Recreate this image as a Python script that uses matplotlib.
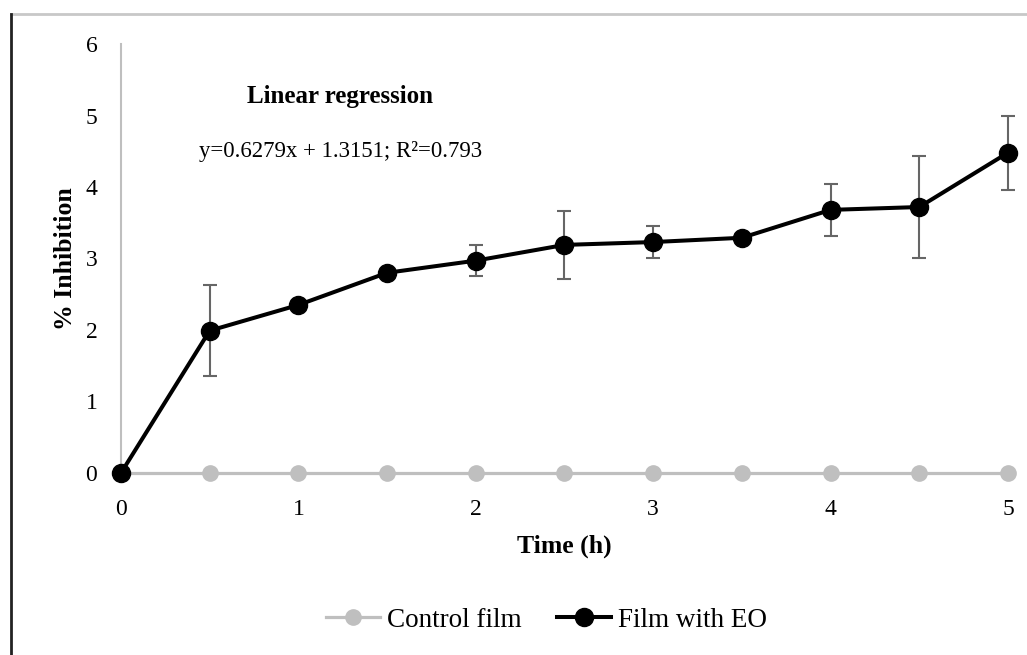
import numpy as np
import matplotlib
matplotlib.use("Agg")
import matplotlib.pyplot as plt
from matplotlib.lines import Line2D

plt.rcParams["font.family"] = ["Liberation Serif", "DejaVu Serif"]

# Données
time_h = [0, 0.5, 1, 1.5, 2, 2.5, 3, 3.5, 4, 4.5, 5]
control = [0, 0, 0, 0, 0, 0, 0, 0, 0, 0, 0]
film_eo = [0, 1.99, 2.35, 2.80, 2.97, 3.19, 3.23, 3.29, 3.68, 3.72, 4.48]
film_eo_err = [0, 0.64, 0.05, 0, 0.22, 0.48, 0.23, 0, 0.36, 0.71, 0.52]

fig = plt.figure(figsize=(10.27, 6.55), dpi=100)
ax = fig.add_axes([0.1178, 0.2779, 0.8637, 0.6549])

ax.plot(time_h, control, "o-", color="#bfbfbf", linewidth=2.3, markersize=11,
        label="Control film", zorder=2, clip_on=False)
eb = ax.errorbar(time_h, film_eo, yerr=film_eo_err, fmt="none", ecolor="#666666",
                 elinewidth=1.5, capsize=5, capthick=1.5, zorder=3)
for art in eb.lines[1] + eb.lines[2]:
    art.set_clip_on(False)
ax.plot(time_h, film_eo, "o-", color="black", linewidth=2.9, markersize=13,
        label="Film with EO", zorder=4, clip_on=False)

ax.set_xlim(0, 5)
ax.set_ylim(0, 6)
ax.set_xticks(range(6))
ax.set_yticks(range(7))
ax.tick_params(length=0, labelsize=17)
ax.tick_params(axis="x", pad=19)
ax.tick_params(axis="y", pad=17)
for s in ["top", "right", "bottom"]:
    ax.spines[s].set_visible(False)
ax.spines["left"].set_color("#bfbfbf")
ax.spines["left"].set_linewidth(1.5)

ax.set_xlabel("Time (h)", fontsize=18.5, fontweight="bold", labelpad=10)
ax.set_ylabel("% Inhibition", fontsize=18.5, fontweight="bold", labelpad=6)

ax.text(1.235, 5.27, "Linear regression", fontsize=18, fontweight="bold",
        ha="center", va="center")
ax.text(1.235, 4.49, "y=0.6279x + 1.3151; R²=0.793", fontsize=16.4,
        ha="center", va="center")

fig.legend(loc="center", bbox_to_anchor=(0.532, 0.053), ncol=2, frameon=False,
           fontsize=19.5, handlelength=2.0, handletextpad=0.25, columnspacing=1.3)

# cadre partiel de la figure
fig.add_artist(Line2D([0.0107, 1.0], [0.979, 0.979], color="#c8c8c8", linewidth=2,
                      transform=fig.transFigure))
fig.add_artist(Line2D([0.0107, 0.0107], [0.0, 0.979], color="#222222", linewidth=2,
                      transform=fig.transFigure))

fig.savefig("out.png", dpi=100)
